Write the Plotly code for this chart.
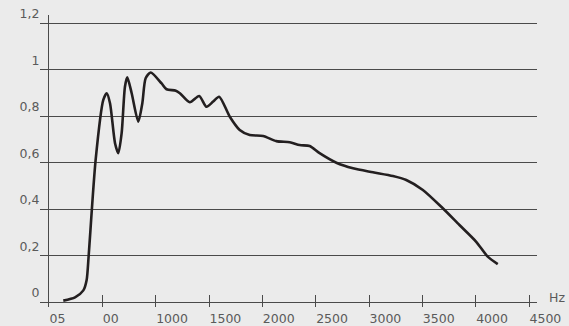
import plotly.graph_objects as go

freq_hz = [134, 244, 322, 353, 372, 437, 509, 541, 572, 619, 650, 681, 712, 734, 775,
           837, 875, 906, 953, 1056, 1102, 1189, 1227, 1320, 1408, 1476, 1539, 1595, 1695, 1788,
           1882, 2007, 2132, 2257, 2350, 2444, 2537, 2694, 2850, 3037, 3224, 3349, 3505, 3692,
           3848, 4005, 4113, 4207]
response = [0.006, 0.02, 0.05, 0.095, 0.2, 0.61, 0.869, 0.898, 0.855, 0.683, 0.64,
            0.726, 0.926, 0.966, 0.898, 0.776, 0.855, 0.962, 0.987, 0.94, 0.915, 0.909, 0.898,
            0.859, 0.886, 0.84, 0.862, 0.883, 0.797, 0.74, 0.718, 0.714, 0.692, 0.687, 0.675,
            0.671, 0.64, 0.599, 0.575, 0.558, 0.542, 0.525, 0.482, 0.403, 0.331, 0.259, 0.195,
            0.163]

x_tickvals = [0, 500, 1000, 1500, 2000, 2500, 3000, 3500, 4000, 4500]
x_ticktext = ["05", "00", "1000", "1500", "2000", "2500", "3000", "3500", "4000", "4500"]
y_tickvals = [0, 0.2, 0.4, 0.6, 0.8, 1.0, 1.2]
y_ticktext = ["0", "0,2", "0,4", "0,6", "0,8", "1", "1,2"]

FONT = dict(family="DejaVu Sans", size=12.5, color="#5a5a5a")
GRID = "#4a4a4a"

fig = go.Figure()
fig.add_trace(go.Scatter(
    x=freq_hz, y=response, mode="lines",
    line=dict(color="#231f20", width=2.6, shape="spline", smoothing=0.7),
    hoverinfo="skip", showlegend=False,
))

fig.update_layout(
    width=569, height=326,
    margin=dict(l=49, r=32, t=15, b=19, autoexpand=False),
    paper_bgcolor="#ebebeb", plot_bgcolor="#ebebeb",
    font=FONT,
    xaxis=dict(
        range=[0, 4575], showgrid=False, zeroline=False, showline=False,
        automargin=False, fixedrange=True,
        tickvals=x_tickvals, ticktext=x_ticktext,
        ticks="inside", ticklen=12, tickwidth=1, tickcolor=GRID,
        ticklabelposition="outside right", ticklabelstandoff=2,
        tickfont=FONT,
    ),
    yaxis=dict(
        range=[-0.0215, 1.2344], showgrid=True, gridcolor=GRID, gridwidth=1,
        automargin=False, fixedrange=True,
        zeroline=False, showline=True, linecolor=GRID, linewidth=1,
        tickvals=y_tickvals, ticktext=y_ticktext,
        ticks="outside", ticklen=8, tickwidth=1, tickcolor=GRID,
        ticklabelposition="outside top", ticklabelstandoff=6,
        tickfont=FONT,
    ),
    annotations=[dict(
        text="Hz", xref="paper", yref="paper", x=1.0, y=0.0,
        xanchor="left", yanchor="middle", xshift=10, yshift=10,
        showarrow=False, font=FONT,
    )],
)

fig.write_html("out.html", config={"displayModeBar": False},
               post_script="document.body.style.margin='0';")
